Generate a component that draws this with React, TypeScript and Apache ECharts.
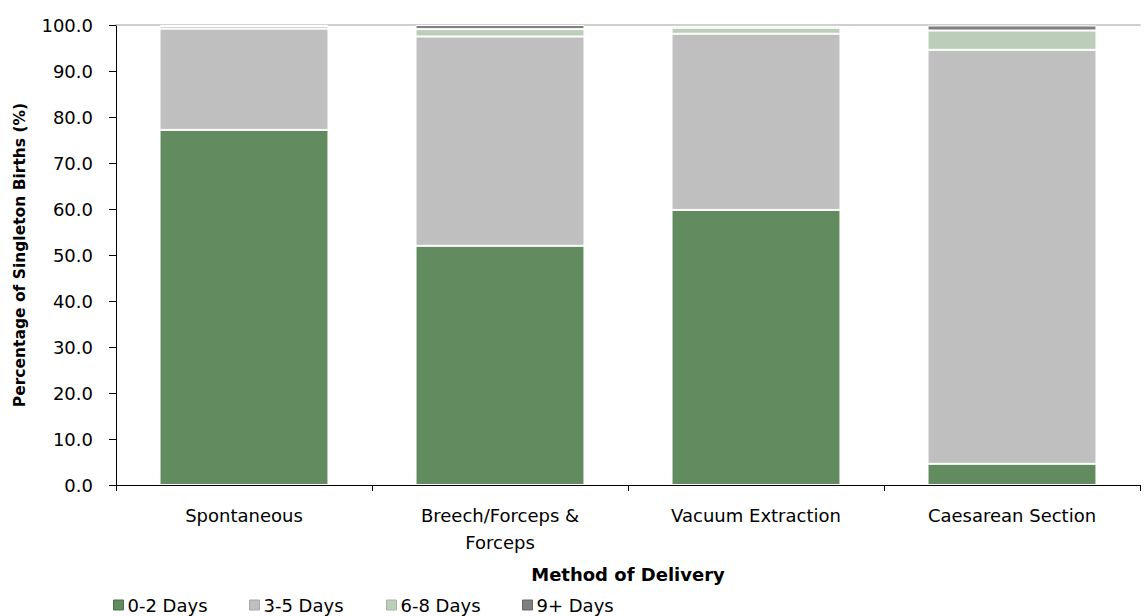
import React, { useEffect, useRef } from "react";
import * as echarts from "echarts";

const categories = ["Spontaneous", "Breech/Forceps &\nForceps", "Vacuum Extraction", "Caesarean Section"];
const seriesNames = ["0-2 Days", "3-5 Days", "6-8 Days", "9+ Days"];
const days0to2 = [77.2, 52.0, 59.8, 4.6];
const days3to5 = [22.0, 45.5, 38.3, 90.0];
const days6to8 = [0.6, 1.6, 1.3, 4.2];
const days9plus = [0.2, 0.9, 0.4, 1.1];
const yTicks = { min: 0, max: 100, interval: 10 };

const FONT = "'DejaVu Sans', 'Open Sans', sans-serif";
const colors = ["#628C5F", "#BFBFBF", "#BBCFB8", "#7F7F7F"];
const borders = ["#4A7048", "#A6A6A6", "#A3B8A0", "#666666"];
const legendLefts = [113, 249, 386, 522];

export default function App() {
  const ref = useRef<HTMLDivElement>(null);
  useEffect(() => {
    if (!ref.current) return;
    const chart = echarts.init(ref.current, undefined, { renderer: "svg" });
    const values = [days0to2, days3to5, days6to8, days9plus];
    chart.setOption({
      animation: false,
      textStyle: { fontFamily: FONT },
      grid: { left: 116, right: 8, top: 25, bottom: 131 },
      legend: seriesNames.map((name, i) => ({
        left: legendLefts[i],
        top: 596,
        padding: 0,
        itemWidth: 10,
        itemHeight: 10,
        itemGap: 0,
        icon: "rect",
        textStyle: { fontFamily: FONT, fontSize: 18, color: "#000", padding: [0, 0, 0, -1] },
        data: [{ name, itemStyle: { borderColor: borders[i], borderWidth: 1 } }],
      })),
      xAxis: [
        {
          type: "category",
          data: categories,
          name: "Method of Delivery",
          nameLocation: "middle",
          nameGap: 80,
          nameTextStyle: { fontFamily: FONT, fontSize: 18, fontWeight: "bold", color: "#000" },
          axisLine: { lineStyle: { color: "#000", width: 1 } },
          axisTick: { show: true, length: 6, lineStyle: { color: "#000" } },
          axisLabel: { fontFamily: FONT, fontSize: 18, color: "#000", margin: 17, lineHeight: 27 },
        },
        {
          type: "category",
          data: categories,
          position: "top",
          axisLine: { show: true, lineStyle: { color: "#BFBFBF", width: 1.5 } },
          axisTick: { show: false },
          axisLabel: { show: false },
        },
      ],
      yAxis: {
        type: "value",
        min: yTicks.min,
        max: yTicks.max,
        interval: yTicks.interval,
        name: "Percentage of Singleton Births (%)",
        nameLocation: "middle",
        nameGap: 88,
        nameTextStyle: { fontFamily: FONT, fontSize: 15.5, fontWeight: "bold", color: "#000" },
        axisLine: { show: true, lineStyle: { color: "#000", width: 1 } },
        axisTick: { show: true, length: 7, lineStyle: { color: "#000" } },
        splitLine: { show: false },
        axisLabel: {
          fontFamily: FONT,
          fontSize: 18,
          color: "#000",
          margin: 23,
          formatter: (v: number) => v.toFixed(1),
        },
      },
      series: seriesNames.map((name, i) => ({
        name,
        type: "bar",
        stack: "total",
        data: values[i],
        barCategoryGap: "34%",
        itemStyle: { color: colors[i], borderColor: "#FFFFFF", borderWidth: 1 },
      })),
    });
    return () => chart.dispose();
  }, []);
  return (
    <div
      ref={ref}
      style={{ position: "fixed", left: 0, top: 0, width: 1148, height: 616, background: "#fff" }}
    />
  );
}
